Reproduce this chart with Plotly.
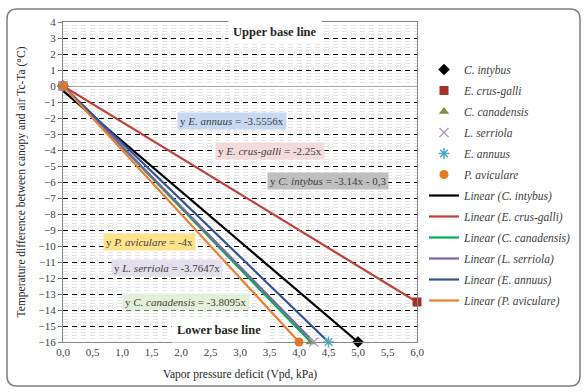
import plotly.graph_objects as go

# ---- data ----
species = ["C. intybus", "E. crus-galli", "C. canadensis", "L. serriola", "E. annuus", "P. aviculare"]
vpd_end = [5.0, 6.0, 4.2, 4.25, 4.5, 4.0]
dt_end = [-16.0, -13.5, -16.0, -16.0, -16.0, -16.0]
slopes = [-3.14, -2.25, -3.8095, -3.7647, -3.5556, -4.0]
intercepts = [-0.3, 0.0, 0.0, 0.0, 0.0, 0.0]
equation_text = ["-3.14x - 0,3", "-2.25x", "-3.8095x", "-3.7647x", "-3.5556x", "-4x"]
x_ticks = [0.0, 0.5, 1.0, 1.5, 2.0, 2.5, 3.0, 3.5, 4.0, 4.5, 5.0, 5.5, 6.0]
y_ticks = list(range(-16, 5))

# ---- styles ----
marker_symbols = ["diamond", "square", "triangle-up", "x-thin-open", "asterisk-open", "circle"]
marker_colors = ["#000000", "#A8302B", "#77933C", "#B3A2C7", "#4BACC6", "#E8771E"]
line_colors = ["#000000", "#C0403A", "#00B050", "#8064A2", "#2F5597", "#ED7D31"]
label_bg = ["#BFBFBF", "#F2DCDB", "#E2F0D9", "#E4DFEC", "#C6D9F1", "#FFE38A"]
label_pos = [(4.49, -5.94), (3.51, -4.06), (2.08, -13.5), (1.76, -11.4), (2.86, -2.2), (1.47, -9.75)]

FONT = "Liberation Serif"

fig = go.Figure()

# trendlines (drawn first so markers sit on top)
for i, sp in enumerate(species):
    xs = [0.0, vpd_end[i]]
    ys = [slopes[i] * x + intercepts[i] for x in xs]
    fig.add_trace(go.Scatter(
        x=xs, y=ys, mode="lines", name=f"Linear ({sp})",
        line=dict(color=line_colors[i], width=2.2),
        legendgroup=f"l{i}", legendrank=100 + i, hoverinfo="skip"))

# data points
for i, sp in enumerate(species):
    fig.add_trace(go.Scatter(
        x=[0.0, vpd_end[i]], y=[0.0, dt_end[i]], mode="markers", name=sp,
        cliponaxis=False,
        marker=dict(symbol=marker_symbols[i], color=marker_colors[i], size=9,
                    line=dict(color=marker_colors[i], width=1.5 if "open" in marker_symbols[i] else 0)),
        legendgroup=f"m{i}", legendrank=i + 1))

# equation labels
for i, sp in enumerate(species):
    fig.add_annotation(
        x=label_pos[i][0], y=label_pos[i][1], xref="x", yref="y",
        text=f"y <i>{sp}</i> = {equation_text[i]}", showarrow=False,
        bgcolor=label_bg[i], borderpad=2,
        font=dict(family=FONT, size=11, color="#404040"))

fig.add_annotation(x=3.59, y=3.35, xref="x", yref="y", text="<b>Upper base line</b>",
                   showarrow=False, bgcolor="white", borderpad=4,
                   font=dict(family=FONT, size=12.5, color="#262626"))
fig.add_annotation(x=2.64, y=-15.25, xref="x", yref="y", text="<b>Lower base line</b>",
                   showarrow=False, bgcolor="white", borderpad=5,
                   font=dict(family=FONT, size=12.5, color="#262626"))

# plot area pixels: left 63, right 417, top 22, bottom 342
L, R, T, B = 63, 417, 22, 342
def px(xp):
    return (xp - L) / (R - L)
def py(yp):
    return (B - yp) / (B - T)

# rounded chart border
x0, x1, y0, y1 = px(7), px(580), py(9), py(386)
rx, ry = 10 / (R - L), 10 / (B - T)
path = (f"M {x0+rx},{y0} L {x1-rx},{y0} Q {x1},{y0} {x1},{y0-ry} "
        f"L {x1},{y1+ry} Q {x1},{y1} {x1-rx},{y1} L {x0+rx},{y1} "
        f"Q {x0},{y1} {x0},{y1+ry} L {x0},{y0-ry} Q {x0},{y0} {x0+rx},{y0} Z")
fig.add_shape(type="path", path=path, xref="paper", yref="paper",
              line=dict(color="#7F7F7F", width=1.5), layer="below")

fig.update_layout(
    width=586, height=392,
    margin=dict(l=L, r=586 - R, t=T, b=392 - B, autoexpand=False),
    paper_bgcolor="white", plot_bgcolor="white",
    separators=", ",
    font=dict(family=FONT, size=11, color="#404040"),
    showlegend=True,
    legend=dict(x=px(424), y=py(55), xanchor="left", yanchor="top",
                font=dict(family=FONT, size=11.5, color="#404040", style="italic"),
                bgcolor="rgba(0,0,0,0)", itemwidth=30,
                traceorder="grouped", tracegroupgap=2),
    xaxis=dict(range=[0, 6], tickvals=x_ticks, tickformat=".1f", automargin=False,
               showgrid=False, zeroline=False, ticks="",
               showline=True, mirror=True, linecolor="#868686", linewidth=1,
               tickfont=dict(family=FONT, size=11, color="#404040"),
               title=dict(text="Vapor pressure deficit (Vpd, kPa)", standoff=12,
                          font=dict(family=FONT, size=11.5, color="#262626"))),
    xaxis2=dict(range=[0, 6], overlaying="x", anchor="free", position=0.8, side="bottom",
                tickvals=x_ticks, ticks="outside", ticklen=4, tickcolor="#808080",
                automargin=False,
                showticklabels=False, showgrid=False, zeroline=False, showline=False),
    yaxis=dict(range=[-16, 4], tickvals=y_ticks, automargin=False,
               showgrid=True, gridcolor="#000000", griddash="5px,4px", gridwidth=1,
               minor=dict(dtick=0.2, showgrid=True, gridcolor="#E4E4E4", gridwidth=1),
               zeroline=True, zerolinecolor="#A6A6A6", zerolinewidth=1,
               ticks="outside", ticklen=4, tickcolor="#808080",
               showline=True, mirror=True, linecolor="#868686", linewidth=1,
               tickfont=dict(family=FONT, size=11, color="#404040"),
               title=dict(text="Temperature difference between canopy and air Tc-Ta (°C)",
                          standoff=10, font=dict(family=FONT, size=11.5, color="#262626"))),
)

fig.write_html("out.html", config={"displayModeBar": False},
               post_script="document.body.style.margin='0';")
